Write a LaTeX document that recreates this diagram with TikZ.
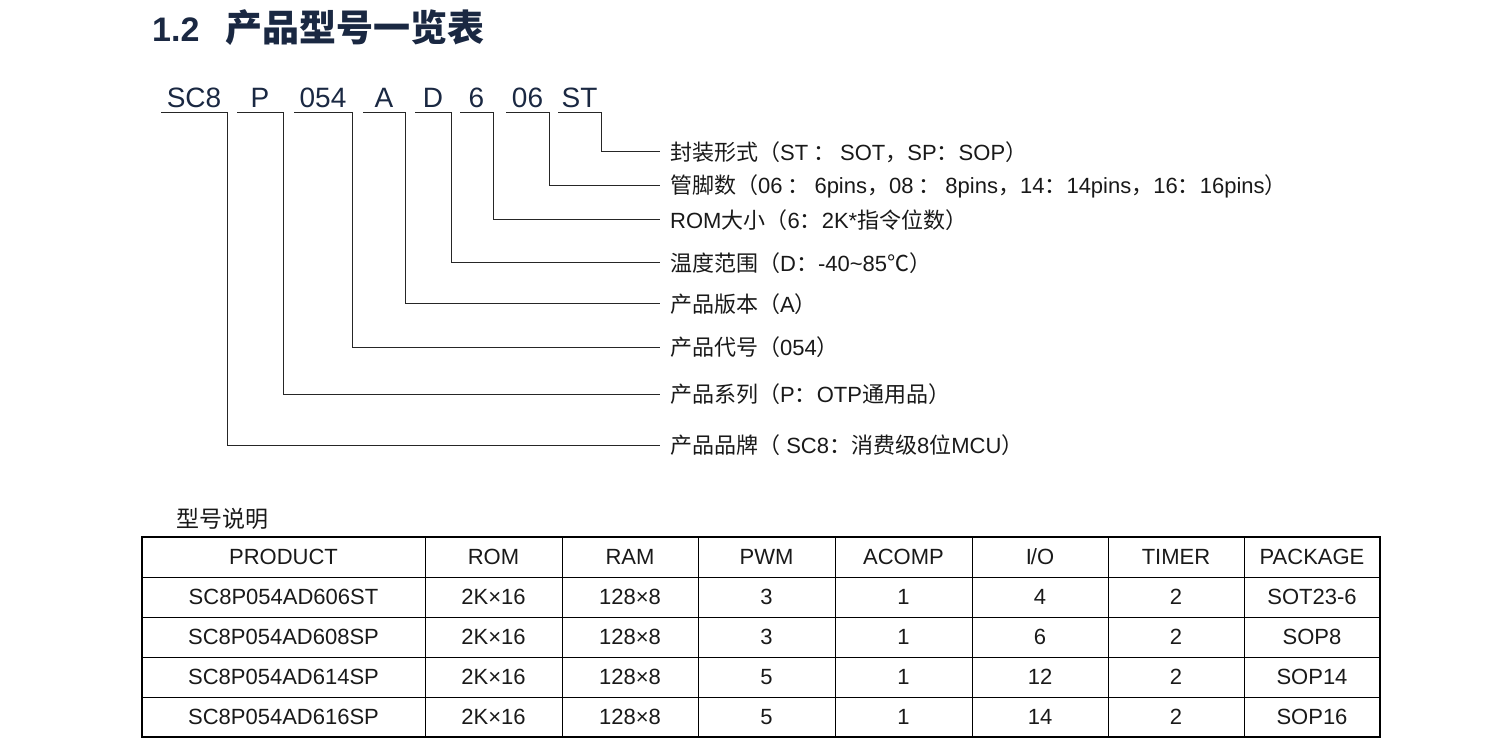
\documentclass[tikz,border=0pt]{standalone}
\usepackage{fontspec}
\setmainfont{Liberation Sans}
\newfontfamily\cjk{Noto Sans CJK SC}
\usetikzlibrary{positioning}
\definecolor{navy}{RGB}{26,40,66}
\newcommand{\zh}[1]{{\cjk #1}}
\tikzset{
  code/.style={font=\fontsize{28}{30}\selectfont, text=navy, inner sep=0pt, anchor=base},
  lbl/.style={font=\fontsize{22}{24}\selectfont, text=black!90, inner sep=0pt, anchor=west},
  cell/.style={font=\fontsize{22}{24}\selectfont, text=black!90, inner sep=0pt},
  lead/.style={line width=1pt, black!85}
}
\begin{document}
\begin{tikzpicture}[x=1pt,y=-1pt]
  \useasboundingbox (0,0) rectangle (1486,751);
  % title
  \node[font=\fontsize{34}{36}\selectfont\bfseries, text=navy, anchor=west, inner sep=0pt] (title) at (152,28) {1.2\hspace{26pt}{\fontsize{37}{40}\selectfont\zh{产品型号一览表}}};
  % code segments: name/text/left/right/drop y/label
  \foreach \n/\t/\l/\r/\y/\lab in {
      st/ST/558/601/152/{\zh{封装形式（}ST\zh{ ： }SOT\zh{，}SP\zh{：}SOP\zh{）}},
      pin/06/506/549/186/{\zh{管脚数（}06\zh{ ： }6pins\zh{，}08\zh{ ： }8pins\zh{，}14\zh{：}14pins\zh{，}16\zh{：}16pins\zh{）}},
      rom/6/460/493/220/{ROM\zh{大小（}6\zh{：}2K*\zh{指令位数）}},
      tmp/D/415/451/263/{\zh{温度范围（}D\zh{：}-40\textasciitilde85\zh{℃）}},
      ver/A/363/405/304/{\zh{产品版本（}A\zh{）}},
      num/054/294/352/347/{\zh{产品代号（}054\zh{）}},
      ser/P/237/283/394/{\zh{产品系列（}P\zh{：}OTP\zh{通用品）}},
      brd/SC8/161/227/445/{\zh{产品品牌（} SC8\zh{：消费级}8\zh{位}MCU\zh{）}}} {
    \node[code] (\n) at ({(\l+\r)/2},108) {\t};
    \coordinate (\n-a) at (\l,113);
    \coordinate (\n-b) at (\r,113);
    \coordinate (\n-c) at (660,\y);
    \node[lbl] (\n-t) at (670,\y) {\lab};
    \draw[lead] (\n-a) -- (\n-b) |- (\n-c);
  }
  % table caption
  \node[font=\fontsize{23}{24}\selectfont, text=black!90, anchor=west, inner sep=0pt] (cap) at (176,519) {\zh{型号说明}};
  % table grid
  \draw[line width=1.2pt] (142,537) rectangle (1380,737);
  \foreach \y in {577,617,657,697} \draw[line width=1pt] (142,\y) -- (1380,\y);
  \foreach \x in {425,562,698,835,972,1108,1244} \draw[line width=1pt] (\x,537) -- (\x,737);
  % header
  \foreach \x/\t [count=\i] in {283.5/PRODUCT,493.5/ROM,630/RAM,766.5/PWM,903.5/ACOMP,1040/{I\kern-1pt/O},1176/TIMER,1312/PACKAGE}
    \node[cell] (h\i) at (\x,557) {\t};
  % rows
  \foreach \y/\p/\w/\io/\pk [count=\r] in {
      597/606ST/3/4/SOT23-6, 637/608SP/3/6/SOP8,
      677/614SP/5/12/SOP14, 717/616SP/5/14/SOP16} {
    \node[cell] (p\r) at (283.5,\y) {SC8P054AD\p};
    \node[cell] at (493.5,\y) {2K×16};
    \node[cell] at (630,\y) {128×8};
    \node[cell] at (766.5,\y) {\w};
    \node[cell] at (903.5,\y) {1};
    \node[cell] at (1040,\y) {\io};
    \node[cell] at (1176,\y) {2};
    \node[cell] at (1312,\y) {\pk};
  }
\end{tikzpicture}
\end{document}
